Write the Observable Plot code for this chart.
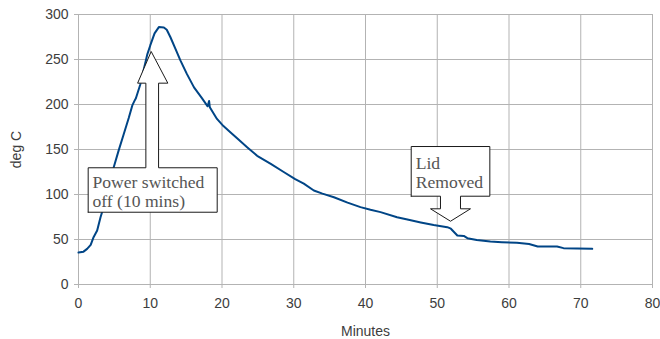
<!DOCTYPE html>
<html>
<head>
<meta charset="utf-8">
<script src="https://cdn.jsdelivr.net/npm/d3@7"></script>
<script src="https://cdn.jsdelivr.net/npm/@observablehq/plot@0.6"></script>
<style>
  html, body { margin: 0; padding: 0; background: #fff; }
  svg { display: block; }
</style>
</head>
<body>
<div id="chart"></div>
<script>
const minutes = [0, 0.7, 1.2, 1.7, 2.1, 2.6, 3.07, 3.5, 3.76, 4.3, 4.9, 5.6, 6.3, 7.0, 7.5, 7.8, 8.0, 8.6, 9.6, 10.0, 10.6, 11.2, 11.9, 12.3, 12.8, 13.5, 14.2, 15.1, 16.1, 17.2, 18.0, 18.2, 18.3, 19.3, 20.2, 21.2, 22.3, 23.5, 24.9, 26.8, 28.6, 30.2, 31.4, 32.8, 34.0, 35.6, 37.5, 39.3, 40.7, 42.1, 44.4, 46.0, 47.7, 49.5, 51.4, 51.9, 52.5, 52.8, 53.7, 54.2, 55.5, 57.4, 59.0, 61.1, 62.8, 64.0, 66.7, 67.6, 69.5, 71.6];
const degC = [35.5, 36.5, 39.6, 44, 52.6, 60, 74.8, 86, 93, 110, 130, 149, 167, 185, 199, 204, 207, 222, 256, 265.6, 279, 286, 285.5, 283, 275, 262, 249, 234, 219, 207, 198, 204, 197, 184, 176, 169, 161, 152.6, 143, 134, 125, 117, 112, 104.4, 101, 97, 91, 86, 83, 80.4, 74.8, 72, 69, 66, 63.7, 62, 57, 54.4, 54, 51.5, 49.5, 47.8, 47, 46.3, 45, 42.2, 42.2, 40.4, 40, 39.6];

const xTicks = [0, 10, 20, 30, 40, 50, 60, 70, 80];
const yTicks = [0, 50, 100, 150, 200, 250, 300];

// callout outlines (in data coordinates)
const callout1X = [1.35, 1.35, 9.39, 9.39, 8.24, 10.13, 12.45, 11.16, 11.16, 19.33, 19.33, 1.35];
const callout1Y = [80.3, 129.7, 129.7, 223.7, 223.7, 258.9, 223.7, 223.7, 129.7, 129.7, 80.3, 80.3];
const callout2X = [46.37, 46.37, 57.33, 57.33, 53.24, 53.24, 54.63, 51.85, 49.06, 50.45, 50.45, 46.37];
const callout2Y = [98.1, 153.3, 153.3, 98.1, 98.1, 84.1, 84.1, 70.3, 84.1, 84.1, 98.1, 98.1];

const noteTexts = ["Power switched\noff (10 mins)", "Lid\nRemoved"];
const noteX = [1.95, 47.0];
const noteY = [121.6, 142.6];

const data = minutes.map((m, i) => ({m, t: degC[i]}));
const c1 = callout1X.map((x, i) => ({x, y: callout1Y[i]}));
const c2 = callout2X.map((x, i) => ({x, y: callout2Y[i]}));
const notes = noteTexts.map((text, i) => ({text, x: noteX[i], y: noteY[i]}));

const chart = Plot.plot({
  width: 660,
  height: 339,
  marginLeft: 78,
  marginRight: 8,
  marginTop: 14,
  marginBottom: 55,
  style: {fontFamily: "Liberation Sans, Arial, sans-serif", background: "#fff"},
  x: {domain: [0, 80]},
  y: {domain: [0, 300]},
  marks: [
    Plot.gridX(xTicks, {stroke: "#b3b3b3", strokeOpacity: 1}),
    Plot.gridY(yTicks, {stroke: "#b3b3b3", strokeOpacity: 1}),
    Plot.ruleY([0], {stroke: "#b3b3b3"}),
    Plot.ruleX([0], {stroke: "#b3b3b3"}),
    Plot.axisX(xTicks, {tickSize: 4, tickPadding: 10, fontSize: 14, color: "#3d3d3d", stroke: "#b3b3b3",
      label: "Minutes", labelAnchor: "center", labelArrow: "none", labelOffset: 51}),
    Plot.axisY(yTicks, {tickSize: 4, tickPadding: 6, fontSize: 14, color: "#3d3d3d", stroke: "#b3b3b3",
      label: "deg C", labelAnchor: "center", labelArrow: "none", labelOffset: 67}),
    Plot.line(data, {x: "m", y: "t", stroke: "#004586", strokeWidth: 2, strokeLinejoin: "round"}),
    Plot.line(c1, {x: "x", y: "y", fill: "white", stroke: "#1a1a1a", strokeWidth: 1}),
    Plot.line(c2, {x: "x", y: "y", fill: "white", stroke: "#1a1a1a", strokeWidth: 1}),
    Plot.text(notes, {x: "x", y: "y", text: "text", textAnchor: "start", lineAnchor: "top",
      fontFamily: "Liberation Serif, Times New Roman, serif", fontSize: 17.6, lineHeight: 1.05, fill: "#555"})
  ]
});
document.getElementById("chart").appendChild(chart);
</script>
</body>
</html>
